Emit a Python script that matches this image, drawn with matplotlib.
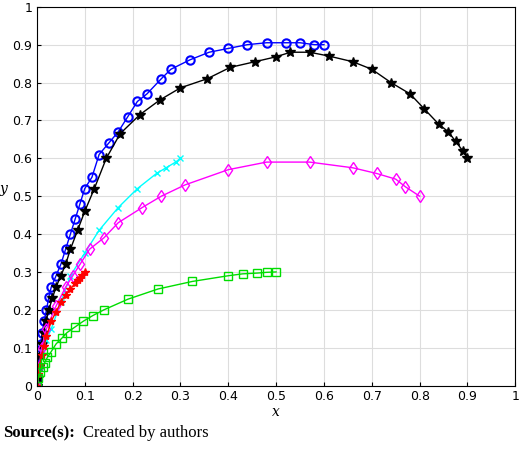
import matplotlib
matplotlib.use("Agg")
import matplotlib.pyplot as plt

blue_x = [0,0.001,0.003,0.005,0.008,0.011,0.015,0.02,0.025,0.03,0.04,0.05,0.06,0.07,0.08,0.09,0.1,0.115,0.13,0.15,0.17,0.19,0.21,0.23,0.26,0.28,0.32,0.36,0.40,0.44,0.48,0.52,0.55,0.58,0.6]
blue_y = [0,0.02,0.05,0.08,0.11,0.14,0.17,0.2,0.235,0.26,0.29,0.32,0.36,0.4,0.44,0.48,0.52,0.55,0.61,0.64,0.67,0.71,0.75,0.77,0.81,0.835,0.86,0.88,0.89,0.9,0.905,0.905,0.905,0.9,0.9]
black_x = [0,0.002,0.004,0.007,0.01,0.014,0.019,0.025,0.032,0.04,0.05,0.06,0.07,0.085,0.1,0.12,0.145,0.174,0.215,0.257,0.3,0.356,0.404,0.456,0.5,0.53,0.57,0.61,0.66,0.70,0.74,0.78,0.81,0.84,0.86,0.875,0.89,0.9]
black_y = [0,0.02,0.05,0.08,0.11,0.14,0.17,0.2,0.23,0.26,0.29,0.32,0.36,0.41,0.46,0.52,0.6,0.665,0.715,0.754,0.786,0.81,0.84,0.855,0.868,0.88,0.88,0.87,0.855,0.835,0.8,0.77,0.73,0.69,0.67,0.645,0.62,0.6]
cyan_x = [0,0.005,0.01,0.02,0.03,0.05,0.07,0.1,0.13,0.17,0.21,0.25,0.27,0.29,0.3]
cyan_y = [0,0.05,0.09,0.12,0.15,0.22,0.29,0.35,0.41,0.47,0.52,0.56,0.575,0.59,0.6]
mag_x = [0,0.005,0.01,0.02,0.04,0.06,0.075,0.09,0.11,0.14,0.17,0.22,0.26,0.31,0.4,0.48,0.57,0.66,0.71,0.75,0.77,0.8]
mag_y = [0,0.05,0.1,0.15,0.21,0.26,0.29,0.32,0.36,0.39,0.43,0.47,0.5,0.53,0.57,0.59,0.59,0.575,0.56,0.545,0.525,0.5]
red_x = [0,0.003,0.006,0.01,0.015,0.02,0.03,0.04,0.05,0.06,0.07,0.08,0.085,0.09,0.095,0.1]
red_y = [0,0.03,0.055,0.08,0.105,0.13,0.17,0.195,0.22,0.24,0.255,0.27,0.28,0.285,0.292,0.3]
green_x = [0,0.003,0.007,0.012,0.016,0.022,0.03,0.04,0.052,0.063,0.08,0.097,0.117,0.14,0.19,0.253,0.325,0.4,0.43,0.46,0.48,0.5]
green_y = [0,0.02,0.035,0.05,0.06,0.075,0.09,0.11,0.125,0.14,0.155,0.17,0.185,0.2,0.228,0.255,0.275,0.29,0.295,0.297,0.299,0.3]

fig = plt.figure(figsize=(5.2, 4.51), dpi=100)
ax = fig.add_axes([0.071, 0.145, 0.92, 0.84])
kw = dict(lw=1, ms=6, mfc='none')
ax.plot(blue_x, blue_y, 'o-', color='#0000ff', mew=1.5, **kw)
ax.plot(black_x, black_y, '*-', color='black', mfc='black', lw=1, ms=7)
ax.plot(cyan_x, cyan_y, 'x-', color='cyan', lw=1, ms=5)
ax.plot(mag_x, mag_y, 'd-', color='magenta', **kw)
ax.plot(red_x, red_y, '*-', color='red', lw=1, ms=6)
ax.plot(green_x, green_y, 's-', color='#00dd00', **kw)
ax.set_xlim(0, 1); ax.set_ylim(0, 1)
ax.set_xticks([i/10 for i in range(11)]); ax.set_yticks([i/10 for i in range(11)])
ax.set_xticklabels(['0','0.1','0.2','0.3','0.4','0.5','0.6','0.7','0.8','0.9','1'])
ax.set_yticklabels(['0','0.1','0.2','0.3','0.4','0.5','0.6','0.7','0.8','0.9','1'])
ax.tick_params(labelsize=9, direction='in', length=3)
ax.grid(True, color='#dddddd', lw=0.8)
ax.set_xlabel('x', fontstyle='italic', family='DejaVu Serif', labelpad=1)
ax.set_ylabel('y', fontstyle='italic', family='DejaVu Serif', rotation=0, labelpad=6)
fig.text(0.005, 0.03, 'Source(s):', fontweight='bold', family='Liberation Serif', fontsize=12)
fig.text(0.16, 0.03, 'Created by authors', family='Liberation Serif', fontsize=12)
fig.savefig('out.png', dpi=100)
